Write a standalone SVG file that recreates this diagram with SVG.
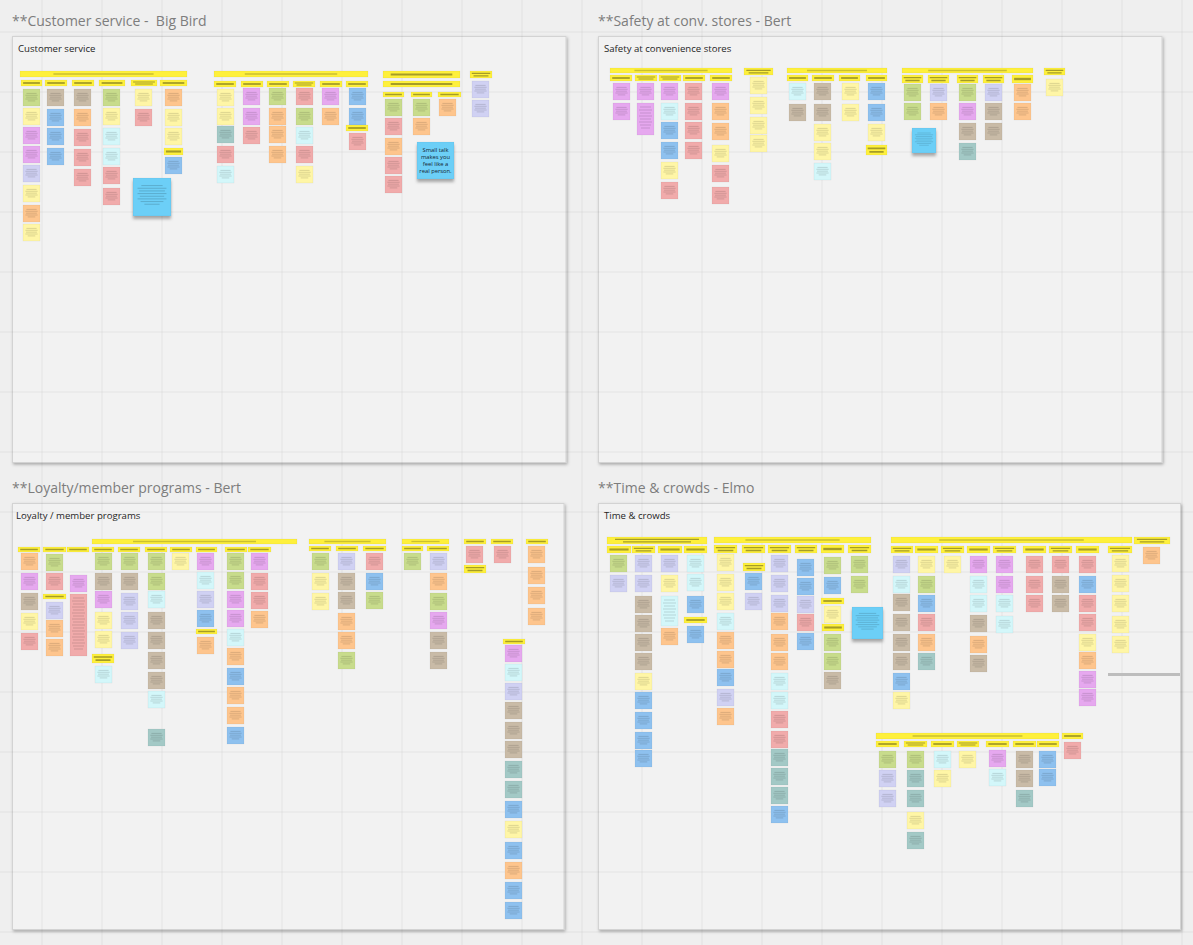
<svg xmlns="http://www.w3.org/2000/svg" width="1193" height="945" viewBox="0 0 1193 945">
<style>
.ttl{font-family:"Open Sans","Liberation Sans",sans-serif;font-size:14px;fill:#7d7d7d;white-space:pre}
.ft{font-family:"Open Sans","Liberation Sans",sans-serif;font-size:9.6px;fill:#1f1f1f}
.frame{fill:#f2f2f2;stroke:#d3d3d3;stroke-width:1}
.notes{stroke:#000;stroke-opacity:.07;stroke-width:.6}
.Y{fill:url(#pY)}.Y2{fill:url(#pY2)}.YL{fill:url(#pYL)}
.g{fill:url(#pg)}.p{fill:url(#pp)}.l{fill:url(#pl)}.t{fill:url(#pt)}.b{fill:url(#pb)}
.te{fill:url(#pte)}.c{fill:url(#pc)}.s{fill:url(#ps)}.o{fill:url(#po)}.ly{fill:url(#ply)}
.B{fill:url(#pB);filter:url(#nsh)}.Bp{fill:#6ccff7;filter:url(#nsh)}
.tx{stroke:#000;stroke-opacity:.2;stroke-width:.7;fill:none}
.st{font-family:"Open Sans","Liberation Sans",sans-serif;font-size:5.8px;fill:#1e3346;text-anchor:middle}
</style>
<defs>
<pattern id="grid" width="60" height="60" x="41.5" y="31.5" patternUnits="userSpaceOnUse"><path d="M0 .5H60M.5 0V60" stroke="#000" stroke-opacity=".055" fill="none"/></pattern>
<filter id="fsh" x="-5%" y="-5%" width="110%" height="110%"><feDropShadow dx="1" dy="1.5" stdDeviation="1.5" flood-color="#000" flood-opacity=".3"/></filter>
<filter id="nsh" x="-20%" y="-20%" width="140%" height="150%"><feDropShadow dx="0" dy="3" stdDeviation="1.5" flood-color="#000" flood-opacity=".3"/></filter>
<path id="tl" d="M.2 .26H.8M.14 .37H.86M.18 .48H.82M.14 .59H.86M.28 .7H.72" stroke="#000" stroke-opacity=".2" stroke-width=".04" fill="none"/>
<path id="tlB" d="M.22 .2H.78M.12 .27H.88M.16 .34H.84M.12 .41H.88M.18 .48H.82M.12 .55H.88M.2 .62H.8M.3 .69H.7" stroke="#000" stroke-opacity=".22" stroke-width=".02" fill="none"/>
<path id="hl" d="M.1 .5H.9" stroke="#000" stroke-opacity=".35" stroke-width=".3" fill="none"/>
<path id="hl2" d="M.08 .33H.92M.16 .68H.84" stroke="#000" stroke-opacity=".35" stroke-width=".18" fill="none"/>
<path id="hlL" d="M.2 .5H.8" stroke="#000" stroke-opacity=".2" stroke-width=".26" fill="none"/>
<pattern id="pY" width="1" height="1" patternContentUnits="objectBoundingBox"><rect width="1" height="1" fill="#fef03c"/><use href="#hl"/></pattern>
<pattern id="pY2" width="1" height="1" patternContentUnits="objectBoundingBox"><rect width="1" height="1" fill="#fef03c"/><use href="#hl2"/></pattern>
<pattern id="pYL" width="1" height="1" patternContentUnits="objectBoundingBox"><rect width="1" height="1" fill="#fef03c"/><use href="#hlL"/></pattern>
<pattern id="pg" width="1" height="1" patternContentUnits="objectBoundingBox"><rect width="1" height="1" fill="#c8dc8c"/><use href="#tl"/></pattern>
<pattern id="pp" width="1" height="1" patternContentUnits="objectBoundingBox"><rect width="1" height="1" fill="#e6a8ef"/><use href="#tl"/></pattern>
<pattern id="pl" width="1" height="1" patternContentUnits="objectBoundingBox"><rect width="1" height="1" fill="#d0d1f3"/><use href="#tl"/></pattern>
<pattern id="pt" width="1" height="1" patternContentUnits="objectBoundingBox"><rect width="1" height="1" fill="#c9bba7"/><use href="#tl"/></pattern>
<pattern id="pb" width="1" height="1" patternContentUnits="objectBoundingBox"><rect width="1" height="1" fill="#8ec1ef"/><use href="#tl"/></pattern>
<pattern id="pte" width="1" height="1" patternContentUnits="objectBoundingBox"><rect width="1" height="1" fill="#a3c9c6"/><use href="#tl"/></pattern>
<pattern id="pc" width="1" height="1" patternContentUnits="objectBoundingBox"><rect width="1" height="1" fill="#d3f7fa"/><use href="#tl"/></pattern>
<pattern id="ps" width="1" height="1" patternContentUnits="objectBoundingBox"><rect width="1" height="1" fill="#f1abab"/><use href="#tl"/></pattern>
<pattern id="po" width="1" height="1" patternContentUnits="objectBoundingBox"><rect width="1" height="1" fill="#fec58d"/><use href="#tl"/></pattern>
<pattern id="ply" width="1" height="1" patternContentUnits="objectBoundingBox"><rect width="1" height="1" fill="#fff6a6"/><use href="#tl"/></pattern>
<pattern id="pB" width="1" height="1" patternContentUnits="objectBoundingBox"><rect width="1" height="1" fill="#6ccff7"/><use href="#tlB"/></pattern>
</defs>

<rect width="1193" height="945" fill="#efefef"/>

<g id="frames">
<rect class="frame" x="12.5" y="36.5" width="553.5" height="426" filter="url(#fsh)"/>
<rect class="frame" x="598.5" y="36.5" width="563.5" height="426" filter="url(#fsh)"/>
<rect class="frame" x="12.5" y="503.5" width="551.5" height="426" filter="url(#fsh)"/>
<rect class="frame" x="598.5" y="503.5" width="582" height="426" filter="url(#fsh)"/>
</g>
<rect width="1193" height="945" fill="url(#grid)"/>

<g id="titles">
<text class="ttl" x="12" y="25.5" xml:space="preserve">**Customer service -  Big Bird</text>
<text class="ttl" x="598" y="25.5">**Safety at conv. stores - Bert</text>
<text class="ttl" x="12" y="493">**Loyalty/member programs - Bert</text>
<text class="ttl" x="598" y="493">**Time &amp; crowds - Elmo</text>
<text class="ft" x="18" y="52.3">Customer service</text>
<text class="ft" x="604" y="52.3">Safety at convenience stores</text>
<text class="ft" x="16" y="519">Loyalty / member programs</text>
<text class="ft" x="604" y="519">Time &amp; crowds</text>
</g>

<g id="customer-service" class="notes">
<g id="cs-cluster-1">
<rect class="YL" x="20" y="71" width="167" height="6"/>
<rect class="Y" x="21" y="80" width="21" height="6"/>
<rect class="Y" x="45" y="80" width="22" height="6"/>
<rect class="Y" x="72" y="80" width="22" height="6"/>
<rect class="Y" x="99" y="80" width="26" height="6"/>
<rect class="Y2" x="131" y="80" width="26" height="6"/>
<rect class="Y" x="160" y="80" width="27" height="6"/>
<rect class="g" x="23" y="89" width="17" height="17"/>
<rect class="ly" x="23" y="108" width="17" height="17"/>
<rect class="p" x="23" y="127" width="17" height="17"/>
<rect class="p" x="23" y="146" width="17" height="17"/>
<rect class="l" x="23" y="165" width="17" height="17"/>
<rect class="ly" x="23" y="185" width="17" height="17"/>
<rect class="o" x="23" y="205" width="17" height="17"/>
<rect class="ly" x="23" y="224" width="17" height="17"/>
<rect class="t" x="47" y="89" width="17" height="17"/>
<rect class="b" x="47" y="109" width="17" height="17"/>
<rect class="b" x="47" y="128" width="17" height="17"/>
<rect class="b" x="47" y="148" width="17" height="17"/>
<rect class="t" x="74" y="89" width="17" height="17"/>
<rect class="o" x="74" y="109" width="17" height="17"/>
<rect class="s" x="74" y="129" width="17" height="17"/>
<rect class="s" x="74" y="149" width="17" height="17"/>
<rect class="s" x="74" y="169" width="17" height="17"/>
<rect class="g" x="103" y="89" width="17" height="17"/>
<rect class="ly" x="103" y="108" width="17" height="17"/>
<rect class="c" x="103" y="128" width="17" height="17"/>
<rect class="c" x="103" y="148" width="17" height="17"/>
<rect class="s" x="103" y="167" width="17" height="17"/>
<rect class="s" x="103" y="188" width="17" height="17"/>
<rect class="ly" x="135" y="89" width="17" height="17"/>
<rect class="s" x="135" y="109" width="17" height="17"/>
<rect class="o" x="165" y="89" width="17" height="17"/>
<rect class="ly" x="165" y="109" width="17" height="17"/>
<rect class="ly" x="165" y="128" width="17" height="17"/>
<rect class="Y" x="164" y="148" width="19" height="7"/>
<rect class="b" x="165" y="157" width="17" height="17"/>
<rect class="B" x="133" y="178" width="38" height="38"/>
</g>
<g id="cs-cluster-2">
<rect class="YL" x="214" y="71" width="154" height="6"/>
<rect class="Y" x="214" y="81" width="22" height="6"/>
<rect class="Y" x="241" y="81" width="22" height="6"/>
<rect class="Y" x="267" y="81" width="22" height="6"/>
<rect class="Y2" x="293" y="81" width="22" height="6"/>
<rect class="Y" x="320" y="81" width="22" height="6"/>
<rect class="Y" x="346" y="81" width="22" height="6"/>
<rect class="ly" x="217" y="89" width="17" height="17"/>
<rect class="ly" x="217" y="108" width="17" height="17"/>
<rect class="te" x="217" y="126" width="17" height="17"/>
<rect class="s" x="217" y="146" width="17" height="17"/>
<rect class="c" x="217" y="166" width="17" height="17"/>
<rect class="p" x="243" y="88" width="17" height="17"/>
<rect class="p" x="243" y="108" width="17" height="17"/>
<rect class="s" x="243" y="127" width="17" height="17"/>
<rect class="g" x="269" y="88" width="17" height="17"/>
<rect class="o" x="269" y="108" width="17" height="17"/>
<rect class="o" x="269" y="126" width="17" height="17"/>
<rect class="o" x="269" y="146" width="17" height="17"/>
<rect class="s" x="296" y="88" width="17" height="17"/>
<rect class="g" x="296" y="108" width="17" height="17"/>
<rect class="c" x="296" y="127" width="17" height="17"/>
<rect class="s" x="296" y="146" width="17" height="17"/>
<rect class="ly" x="296" y="166" width="17" height="17"/>
<rect class="p" x="322" y="88" width="17" height="17"/>
<rect class="o" x="322" y="108" width="17" height="17"/>
<rect class="b" x="349" y="88" width="17" height="17"/>
<rect class="b" x="349" y="108" width="17" height="17"/>
<rect class="Y" x="346" y="125" width="22" height="6"/>
<rect class="s" x="349" y="133" width="17" height="17"/>
</g>
<g id="cs-cluster-3">
<rect class="Y" x="383" y="71" width="77" height="7"/>
<rect class="Y" x="383" y="81" width="77" height="6"/>
<rect class="Y" x="383" y="92" width="21" height="5"/>
<rect class="Y" x="411" y="92" width="21" height="5"/>
<rect class="Y" x="438" y="92" width="23" height="5"/>
<rect class="g" x="385" y="99" width="17" height="17"/>
<rect class="s" x="385" y="118" width="17" height="17"/>
<rect class="o" x="385" y="138" width="17" height="17"/>
<rect class="s" x="385" y="157" width="17" height="17"/>
<rect class="s" x="385" y="176" width="17" height="17"/>
<rect class="g" x="413" y="99" width="17" height="17"/>
<rect class="o" x="413" y="118" width="17" height="17"/>
<rect class="o" x="439" y="99" width="17" height="17"/>
</g>
<g id="cs-small-talk">
<rect class="Bp" x="417" y="142" width="37" height="37"/>
<text class="st" x="435.5" y="151.8">Small talk</text>
<text class="st" x="435.5" y="158.9">makes you</text>
<text class="st" x="435.5" y="166">feel like a</text>
<text class="st" x="435.5" y="173.1">real person.</text>
</g>
<g id="cs-cluster-4">
<rect class="Y2" x="470" y="71" width="22" height="7"/>
<rect class="l" x="472" y="81" width="17" height="17"/>
<rect class="l" x="472" y="100" width="17" height="17"/>
</g>
</g>

<g id="safety" class="notes">
<g id="sf-cluster-1">
<rect class="YL" x="610" y="68" width="122" height="5"/>
<rect class="Y" x="610" y="75" width="22" height="6"/>
<rect class="Y2" x="635" y="75" width="22" height="6"/>
<rect class="Y2" x="659" y="75" width="22" height="6"/>
<rect class="Y" x="683" y="75" width="22" height="6"/>
<rect class="Y" x="710" y="75" width="22" height="6"/>
<rect class="p" x="613" y="83" width="17" height="17"/>
<rect class="p" x="613" y="103" width="17" height="17"/>
<rect class="p" x="637" y="83" width="17" height="17"/>
<rect fill="#e6a8ef" x="637" y="103" width="17" height="32"/>
<rect class="p" x="661" y="83" width="17" height="17"/>
<rect class="c" x="661" y="103" width="17" height="17"/>
<rect class="b" x="661" y="122" width="17" height="17"/>
<rect class="b" x="661" y="142" width="17" height="17"/>
<rect class="ly" x="661" y="162" width="17" height="17"/>
<rect class="s" x="661" y="182" width="17" height="17"/>
<rect class="s" x="685" y="83" width="17" height="17"/>
<rect class="s" x="685" y="103" width="17" height="17"/>
<rect class="s" x="685" y="122" width="17" height="17"/>
<rect class="s" x="685" y="142" width="17" height="17"/>
<rect class="p" x="712" y="83" width="17" height="17"/>
<rect class="o" x="712" y="103" width="17" height="17"/>
<rect class="o" x="712" y="123" width="17" height="17"/>
<rect class="ly" x="712" y="145" width="17" height="17"/>
<rect class="s" x="712" y="165" width="17" height="17"/>
<rect class="s" x="712" y="187" width="17" height="17"/>
</g>
<g id="sf-cluster-2">
<rect class="Y2" x="744" y="68" width="29" height="7"/>
<rect class="ly" x="750" y="77" width="17" height="17"/>
<rect class="ly" x="750" y="97" width="17" height="17"/>
<rect class="ly" x="750" y="117" width="17" height="17"/>
<rect class="ly" x="750" y="135" width="17" height="17"/>
</g>
<g id="sf-cluster-3">
<rect class="YL" x="787" y="68" width="100" height="5"/>
<rect class="Y" x="787" y="75" width="21" height="6"/>
<rect class="Y" x="812" y="75" width="22" height="6"/>
<rect class="Y" x="839" y="75" width="21" height="6"/>
<rect class="Y" x="866" y="75" width="21" height="6"/>
<rect class="c" x="789" y="83" width="17" height="17"/>
<rect class="t" x="789" y="104" width="17" height="17"/>
<rect class="t" x="814" y="83" width="17" height="17"/>
<rect class="t" x="814" y="104" width="17" height="17"/>
<rect class="ly" x="814" y="124" width="17" height="17"/>
<rect class="ly" x="814" y="143" width="17" height="17"/>
<rect class="c" x="814" y="163" width="17" height="17"/>
<rect class="ly" x="842" y="83" width="17" height="17"/>
<rect class="ly" x="842" y="104" width="17" height="17"/>
<rect class="b" x="868" y="83" width="17" height="17"/>
<rect class="b" x="868" y="104" width="17" height="17"/>
<rect class="ly" x="868" y="124" width="17" height="17"/>
<rect class="Y2" x="866" y="145" width="21" height="10"/>
</g>
<g id="sf-cluster-4">
<rect class="YL" x="902" y="68" width="131" height="5"/>
<rect class="Y2" x="902" y="75" width="21" height="8"/>
<rect class="Y2" x="928" y="75" width="21" height="8"/>
<rect class="Y2" x="957" y="75" width="21" height="8"/>
<rect class="Y2" x="983" y="75" width="21" height="8"/>
<rect class="Y" x="1012" y="75" width="21" height="8"/>
<rect class="g" x="904" y="84" width="17" height="17"/>
<rect class="g" x="904" y="103" width="17" height="17"/>
<rect class="l" x="930" y="84" width="17" height="17"/>
<rect class="o" x="930" y="103" width="17" height="17"/>
<rect class="g" x="959" y="84" width="17" height="17"/>
<rect class="p" x="959" y="103" width="17" height="17"/>
<rect class="t" x="959" y="123" width="17" height="17"/>
<rect class="te" x="959" y="143" width="17" height="17"/>
<rect class="l" x="985" y="84" width="17" height="17"/>
<rect class="t" x="985" y="103" width="17" height="17"/>
<rect class="t" x="985" y="123" width="17" height="17"/>
<rect class="o" x="1014" y="84" width="17" height="17"/>
<rect class="o" x="1014" y="103" width="17" height="17"/>
<rect class="B" x="912" y="128" width="24" height="25"/>
</g>
<g id="sf-cluster-5">
<rect class="Y2" x="1044" y="68" width="21" height="7"/>
<rect class="ly" x="1046" y="79" width="17" height="17"/>
</g>
</g>

<g id="loyalty" class="notes">
<g id="ly-cluster-1">
<rect class="YL" x="92" y="539" width="205" height="5"/>
<rect class="Y" x="18" y="547" width="22" height="5"/>
<rect class="Y" x="43" y="547" width="23" height="5"/>
<rect class="Y" x="67" y="547" width="22" height="5"/>
<rect class="Y" x="92" y="547" width="22" height="5"/>
<rect class="Y" x="118" y="547" width="22" height="5"/>
<rect class="Y" x="145" y="547" width="22" height="5"/>
<rect class="Y" x="170" y="547" width="22" height="5"/>
<rect class="Y" x="196" y="547" width="21" height="5"/>
<rect class="Y" x="225" y="547" width="22" height="5"/>
<rect class="Y" x="248" y="547" width="23" height="5"/>
<rect class="o" x="21" y="553" width="17" height="17"/>
<rect class="p" x="21" y="573" width="17" height="17"/>
<rect class="t" x="21" y="593" width="17" height="17"/>
<rect class="ly" x="21" y="613" width="17" height="17"/>
<rect class="s" x="21" y="633" width="17" height="17"/>
<rect class="g" x="46" y="554" width="17" height="17"/>
<rect class="s" x="46" y="573" width="17" height="17"/>
<rect class="Y" x="43" y="594" width="23" height="5"/>
<rect class="l" x="46" y="602" width="17" height="17"/>
<rect class="o" x="46" y="620" width="17" height="17"/>
<rect class="o" x="46" y="639" width="17" height="17"/>
<rect class="p" x="70" y="575" width="17" height="17"/>
<rect fill="#f1abab" x="70" y="594" width="17" height="62"/>
<rect class="g" x="95" y="553" width="17" height="17"/>
<rect class="t" x="95" y="573" width="17" height="17"/>
<rect class="p" x="95" y="591" width="17" height="17"/>
<rect class="ly" x="95" y="612" width="17" height="17"/>
<rect class="ly" x="95" y="631" width="17" height="17"/>
<rect class="Y2" x="92" y="654" width="22" height="9"/>
<rect class="c" x="95" y="666" width="17" height="17"/>
<rect class="g" x="121" y="553" width="17" height="17"/>
<rect class="t" x="121" y="573" width="17" height="17"/>
<rect class="l" x="121" y="593" width="17" height="17"/>
<rect class="l" x="121" y="612" width="17" height="17"/>
<rect class="l" x="121" y="632" width="17" height="17"/>
<rect class="g" x="148" y="553" width="17" height="17"/>
<rect class="g" x="148" y="573" width="17" height="17"/>
<rect class="c" x="148" y="591" width="17" height="17"/>
<rect class="t" x="148" y="612" width="17" height="17"/>
<rect class="t" x="148" y="632" width="17" height="17"/>
<rect class="t" x="148" y="652" width="17" height="17"/>
<rect class="t" x="148" y="672" width="17" height="17"/>
<rect class="c" x="148" y="691" width="17" height="17"/>
<rect class="te" x="148" y="729" width="17" height="17"/>
<rect class="ly" x="172" y="553" width="17" height="17"/>
<rect class="p" x="197" y="553" width="17" height="17"/>
<rect class="c" x="197" y="572" width="17" height="17"/>
<rect class="l" x="197" y="591" width="17" height="17"/>
<rect class="b" x="197" y="610" width="17" height="17"/>
<rect class="Y" x="196" y="629" width="21" height="5"/>
<rect class="o" x="197" y="637" width="17" height="17"/>
<rect class="g" x="227" y="553" width="17" height="17"/>
<rect class="g" x="227" y="572" width="17" height="17"/>
<rect class="p" x="227" y="591" width="17" height="17"/>
<rect class="p" x="227" y="610" width="17" height="17"/>
<rect class="c" x="227" y="629" width="17" height="17"/>
<rect class="o" x="227" y="648" width="17" height="17"/>
<rect class="b" x="227" y="668" width="17" height="17"/>
<rect class="o" x="227" y="687" width="17" height="17"/>
<rect class="o" x="227" y="707" width="17" height="17"/>
<rect class="b" x="227" y="727" width="17" height="17"/>
<rect class="p" x="251" y="553" width="17" height="17"/>
<rect class="s" x="251" y="573" width="17" height="17"/>
<rect class="s" x="251" y="592" width="17" height="17"/>
<rect class="o" x="251" y="611" width="17" height="17"/>
</g>
<g id="ly-cluster-2">
<rect class="YL" x="309" y="539" width="77" height="5"/>
<rect class="Y" x="309" y="546" width="22" height="5"/>
<rect class="Y" x="336" y="546" width="22" height="5"/>
<rect class="Y" x="363" y="546" width="23" height="5"/>
<rect class="g" x="312" y="553" width="17" height="17"/>
<rect class="ly" x="312" y="573" width="17" height="17"/>
<rect class="ly" x="312" y="593" width="17" height="17"/>
<rect class="l" x="338" y="553" width="17" height="17"/>
<rect class="t" x="338" y="573" width="17" height="17"/>
<rect class="t" x="338" y="592" width="17" height="17"/>
<rect class="o" x="338" y="613" width="17" height="17"/>
<rect class="o" x="338" y="632" width="17" height="17"/>
<rect class="g" x="338" y="652" width="17" height="17"/>
<rect class="s" x="366" y="553" width="17" height="17"/>
<rect class="b" x="366" y="573" width="17" height="17"/>
<rect class="g" x="366" y="592" width="17" height="17"/>
</g>
<g id="ly-cluster-3">
<rect class="YL" x="402" y="539" width="47" height="5"/>
<rect class="Y" x="402" y="546" width="21" height="5"/>
<rect class="Y" x="427" y="546" width="22" height="5"/>
<rect class="g" x="404" y="553" width="17" height="17"/>
<rect class="l" x="430" y="553" width="17" height="17"/>
<rect class="o" x="430" y="573" width="17" height="17"/>
<rect class="g" x="430" y="593" width="17" height="17"/>
<rect class="p" x="430" y="612" width="17" height="17"/>
<rect class="t" x="430" y="632" width="17" height="17"/>
<rect class="t" x="430" y="652" width="17" height="17"/>
</g>
<g id="ly-cluster-4">
<rect class="Y" x="464" y="539" width="22" height="5"/>
<rect class="s" x="466" y="546" width="17" height="17"/>
<rect class="Y2" x="464" y="565" width="22" height="8"/>
</g>
<g id="ly-cluster-5">
<rect class="Y" x="491" y="539" width="22" height="5"/>
<rect class="s" x="494" y="546" width="17" height="17"/>
</g>
<g id="ly-cluster-6">
<rect class="Y" x="526" y="539" width="22" height="5"/>
<rect class="o" x="528" y="546" width="17" height="17"/>
<rect class="o" x="528" y="567" width="17" height="17"/>
<rect class="o" x="528" y="587" width="17" height="17"/>
<rect class="o" x="528" y="608" width="17" height="17"/>
</g>
<g id="ly-cluster-7">
<rect class="Y" x="503" y="639" width="22" height="5"/>
<rect class="p" x="505" y="645" width="17" height="17"/>
<rect class="c" x="505" y="664" width="17" height="17"/>
<rect class="l" x="505" y="683" width="17" height="17"/>
<rect class="t" x="505" y="702" width="17" height="17"/>
<rect class="t" x="505" y="722" width="17" height="17"/>
<rect class="t" x="505" y="741" width="17" height="17"/>
<rect class="te" x="505" y="761" width="17" height="17"/>
<rect class="te" x="505" y="781" width="17" height="17"/>
<rect class="b" x="505" y="801" width="17" height="17"/>
<rect class="ly" x="505" y="821" width="17" height="17"/>
<rect class="b" x="505" y="842" width="17" height="17"/>
<rect class="o" x="505" y="862" width="17" height="17"/>
<rect class="b" x="505" y="882" width="17" height="17"/>
<rect class="b" x="505" y="902" width="17" height="17"/>
</g>
</g>

<g id="time-crowds" class="notes">
<g id="tc-cluster-1">
<rect class="Y2" x="607" y="537" width="100" height="7"/>
<rect class="Y" x="607" y="546" width="24" height="7"/>
<rect class="Y2" x="632" y="546" width="23" height="7"/>
<rect class="Y" x="658" y="546" width="24" height="7"/>
<rect class="Y" x="684" y="546" width="23" height="7"/>
<rect class="g" x="610" y="555" width="17" height="17"/>
<rect class="l" x="610" y="575" width="17" height="17"/>
<rect class="l" x="635" y="555" width="17" height="17"/>
<rect class="l" x="635" y="575" width="17" height="17"/>
<rect class="t" x="635" y="596" width="17" height="17"/>
<rect class="t" x="635" y="615" width="17" height="17"/>
<rect class="t" x="635" y="634" width="17" height="17"/>
<rect class="t" x="635" y="653" width="17" height="17"/>
<rect class="ly" x="635" y="673" width="17" height="17"/>
<rect class="b" x="635" y="692" width="17" height="17"/>
<rect class="b" x="635" y="712" width="17" height="17"/>
<rect class="b" x="635" y="732" width="17" height="17"/>
<rect class="b" x="635" y="750" width="17" height="17"/>
<rect class="l" x="661" y="555" width="17" height="17"/>
<rect class="ly" x="661" y="575" width="17" height="17"/>
<rect fill="#d3f7fa" x="661" y="596" width="17" height="30"/>
<rect class="o" x="661" y="628" width="17" height="17"/>
<rect class="c" x="687" y="555" width="17" height="17"/>
<rect class="c" x="687" y="574" width="17" height="17"/>
<rect class="b" x="687" y="596" width="17" height="17"/>
<rect class="Y" x="684" y="617" width="23" height="6"/>
<rect class="b" x="687" y="626" width="17" height="17"/>
</g>
<g id="tc-cluster-2">
<rect class="YL" x="714" y="537" width="157" height="6"/>
<rect class="Y2" x="714" y="545" width="23" height="8"/>
<rect class="Y2" x="742" y="545" width="23" height="8"/>
<rect class="Y2" x="768" y="545" width="23" height="8"/>
<rect class="Y2" x="795" y="545" width="22" height="8"/>
<rect class="Y" x="821" y="545" width="23" height="8"/>
<rect class="Y2" x="848" y="545" width="23" height="8"/>
<rect class="ly" x="717" y="554" width="17" height="17"/>
<rect class="ly" x="717" y="574" width="17" height="17"/>
<rect class="ly" x="717" y="593" width="17" height="17"/>
<rect class="c" x="717" y="613" width="17" height="17"/>
<rect class="o" x="717" y="632" width="17" height="17"/>
<rect class="o" x="717" y="651" width="17" height="17"/>
<rect class="b" x="717" y="669" width="17" height="17"/>
<rect class="l" x="717" y="689" width="17" height="17"/>
<rect class="o" x="717" y="708" width="17" height="17"/>
<rect class="Y2" x="743" y="563" width="22" height="8"/>
<rect class="b" x="745" y="573" width="17" height="17"/>
<rect class="l" x="745" y="593" width="17" height="17"/>
<rect class="l" x="771" y="555" width="17" height="17"/>
<rect class="l" x="771" y="575" width="17" height="17"/>
<rect class="l" x="771" y="595" width="17" height="17"/>
<rect class="o" x="771" y="613" width="17" height="17"/>
<rect class="o" x="771" y="634" width="17" height="17"/>
<rect class="o" x="771" y="653" width="17" height="17"/>
<rect class="c" x="771" y="673" width="17" height="17"/>
<rect class="c" x="771" y="692" width="17" height="17"/>
<rect class="s" x="771" y="711" width="17" height="17"/>
<rect class="s" x="771" y="731" width="17" height="17"/>
<rect class="te" x="771" y="749" width="17" height="17"/>
<rect class="te" x="771" y="768" width="17" height="17"/>
<rect class="te" x="771" y="787" width="17" height="17"/>
<rect class="b" x="771" y="806" width="17" height="17"/>
<rect class="b" x="797" y="559" width="17" height="17"/>
<rect class="b" x="797" y="578" width="17" height="17"/>
<rect class="l" x="797" y="596" width="17" height="17"/>
<rect class="s" x="797" y="614" width="17" height="17"/>
<rect class="b" x="797" y="633" width="17" height="17"/>
<rect class="g" x="824" y="557" width="17" height="17"/>
<rect class="b" x="824" y="577" width="17" height="17"/>
<rect class="Y" x="821" y="598" width="23" height="6"/>
<rect class="ly" x="824" y="606" width="17" height="17"/>
<rect class="Y" x="822" y="624" width="22" height="7"/>
<rect class="g" x="824" y="634" width="17" height="17"/>
<rect class="g" x="824" y="653" width="17" height="17"/>
<rect class="t" x="824" y="672" width="17" height="17"/>
<rect class="g" x="851" y="556" width="17" height="17"/>
<rect class="g" x="851" y="576" width="17" height="17"/>
<rect class="B" x="852" y="607" width="31" height="32"/>
</g>
<g id="tc-cluster-3">
<rect class="YL" x="891" y="537" width="241" height="6"/>
<rect class="Y2" x="891" y="546" width="22" height="7"/>
<rect class="Y" x="915" y="546" width="23" height="7"/>
<rect class="Y2" x="941" y="546" width="23" height="7"/>
<rect class="Y" x="967" y="546" width="23" height="7"/>
<rect class="Y2" x="993" y="546" width="23" height="7"/>
<rect class="Y" x="1023" y="546" width="23" height="7"/>
<rect class="Y2" x="1049" y="546" width="23" height="7"/>
<rect class="Y" x="1076" y="546" width="23" height="7"/>
<rect class="Y2" x="1108" y="546" width="24" height="7"/>
<rect class="l" x="893" y="556" width="17" height="17"/>
<rect class="c" x="893" y="576" width="17" height="17"/>
<rect class="t" x="893" y="594" width="17" height="17"/>
<rect class="t" x="893" y="614" width="17" height="17"/>
<rect class="t" x="893" y="634" width="17" height="17"/>
<rect class="t" x="893" y="653" width="17" height="17"/>
<rect class="b" x="893" y="673" width="17" height="17"/>
<rect class="ly" x="893" y="692" width="17" height="17"/>
<rect class="ly" x="918" y="556" width="17" height="17"/>
<rect class="g" x="918" y="576" width="17" height="17"/>
<rect class="b" x="918" y="595" width="17" height="17"/>
<rect class="s" x="918" y="614" width="17" height="17"/>
<rect class="o" x="918" y="634" width="17" height="17"/>
<rect class="te" x="918" y="653" width="17" height="17"/>
<rect class="ly" x="944" y="556" width="17" height="17"/>
<rect class="p" x="970" y="556" width="17" height="17"/>
<rect class="c" x="970" y="576" width="17" height="17"/>
<rect class="c" x="970" y="595" width="17" height="17"/>
<rect class="t" x="970" y="615" width="17" height="17"/>
<rect class="o" x="970" y="636" width="17" height="17"/>
<rect class="t" x="970" y="655" width="17" height="17"/>
<rect class="p" x="996" y="556" width="17" height="17"/>
<rect class="p" x="996" y="576" width="17" height="17"/>
<rect class="c" x="996" y="595" width="17" height="17"/>
<rect class="c" x="996" y="616" width="17" height="17"/>
<rect class="s" x="1026" y="556" width="17" height="17"/>
<rect class="s" x="1026" y="576" width="17" height="17"/>
<rect class="s" x="1026" y="595" width="17" height="17"/>
<rect class="s" x="1052" y="556" width="17" height="17"/>
<rect class="t" x="1052" y="576" width="17" height="17"/>
<rect class="t" x="1052" y="595" width="17" height="17"/>
<rect class="s" x="1079" y="556" width="17" height="17"/>
<rect class="b" x="1079" y="576" width="17" height="17"/>
<rect class="s" x="1079" y="595" width="17" height="17"/>
<rect class="s" x="1079" y="614" width="17" height="17"/>
<rect class="ly" x="1079" y="634" width="17" height="17"/>
<rect class="o" x="1079" y="652" width="17" height="17"/>
<rect class="p" x="1079" y="671" width="17" height="17"/>
<rect class="p" x="1079" y="689" width="17" height="17"/>
<rect class="ly" x="1112" y="555" width="17" height="17"/>
<rect class="ly" x="1112" y="575" width="17" height="17"/>
<rect class="ly" x="1112" y="595" width="17" height="17"/>
<rect class="ly" x="1112" y="616" width="17" height="17"/>
<rect class="ly" x="1112" y="636" width="17" height="17"/>
</g>
<g id="tc-cluster-4">
<rect class="Y2" x="1134" y="537" width="36" height="7"/>
<rect class="o" x="1143" y="547" width="17" height="17"/>
</g>
<g id="tc-cluster-5">
<rect class="YL" x="876" y="733" width="183" height="6"/>
<rect class="Y" x="876" y="741" width="23" height="6"/>
<rect class="Y2" x="904" y="741" width="23" height="6"/>
<rect class="Y" x="931" y="741" width="23" height="6"/>
<rect class="Y2" x="957" y="741" width="22" height="6"/>
<rect class="Y" x="986" y="741" width="23" height="6"/>
<rect class="Y" x="1013" y="741" width="23" height="6"/>
<rect class="Y" x="1037" y="741" width="22" height="6"/>
<rect class="g" x="879" y="751" width="17" height="17"/>
<rect class="l" x="879" y="770" width="17" height="17"/>
<rect class="l" x="879" y="790" width="17" height="17"/>
<rect class="g" x="907" y="751" width="17" height="17"/>
<rect class="te" x="907" y="770" width="17" height="17"/>
<rect class="te" x="907" y="790" width="17" height="17"/>
<rect class="ly" x="907" y="812" width="17" height="17"/>
<rect class="te" x="907" y="832" width="17" height="17"/>
<rect class="c" x="934" y="751" width="17" height="17"/>
<rect class="ly" x="934" y="770" width="17" height="17"/>
<rect class="ly" x="959" y="751" width="17" height="17"/>
<rect class="p" x="989" y="750" width="17" height="17"/>
<rect class="c" x="989" y="769" width="17" height="17"/>
<rect class="t" x="1016" y="751" width="17" height="17"/>
<rect class="t" x="1016" y="770" width="17" height="17"/>
<rect class="te" x="1016" y="790" width="17" height="17"/>
<rect class="b" x="1039" y="751" width="17" height="17"/>
<rect class="b" x="1039" y="769" width="17" height="17"/>
</g>
<g id="tc-cluster-6">
<rect class="Y" x="1062" y="733" width="21" height="6"/>
<rect class="s" x="1064" y="742" width="17" height="17"/>
</g>
<rect id="tc-line" x="1108" y="673" width="72" height="3" fill="#bdbdbd" stroke="none"/>
</g>

<g id="tall-note-text" class="tx">
<path d="M640 107h11M639 110h13M640 113h11M639 116h13M640 119h11M639 122h13M640 125h11M641 128h9"/>
<path d="M73 598h11M72 601h13M73 604h11M72 607h13M73 610h11M72 613h13M73 616h11M72 619h13M73 622h11M72 625h13M73 628h11M72 631h13M73 634h11M72 637h13M73 640h11M72 643h13M73 646h11M74 649h9"/>
<path d="M664 600h11M663 603h13M664 606h11M663 609h13M664 612h11M663 615h13M664 618h11M665 621h9"/>
</g>
</svg>
